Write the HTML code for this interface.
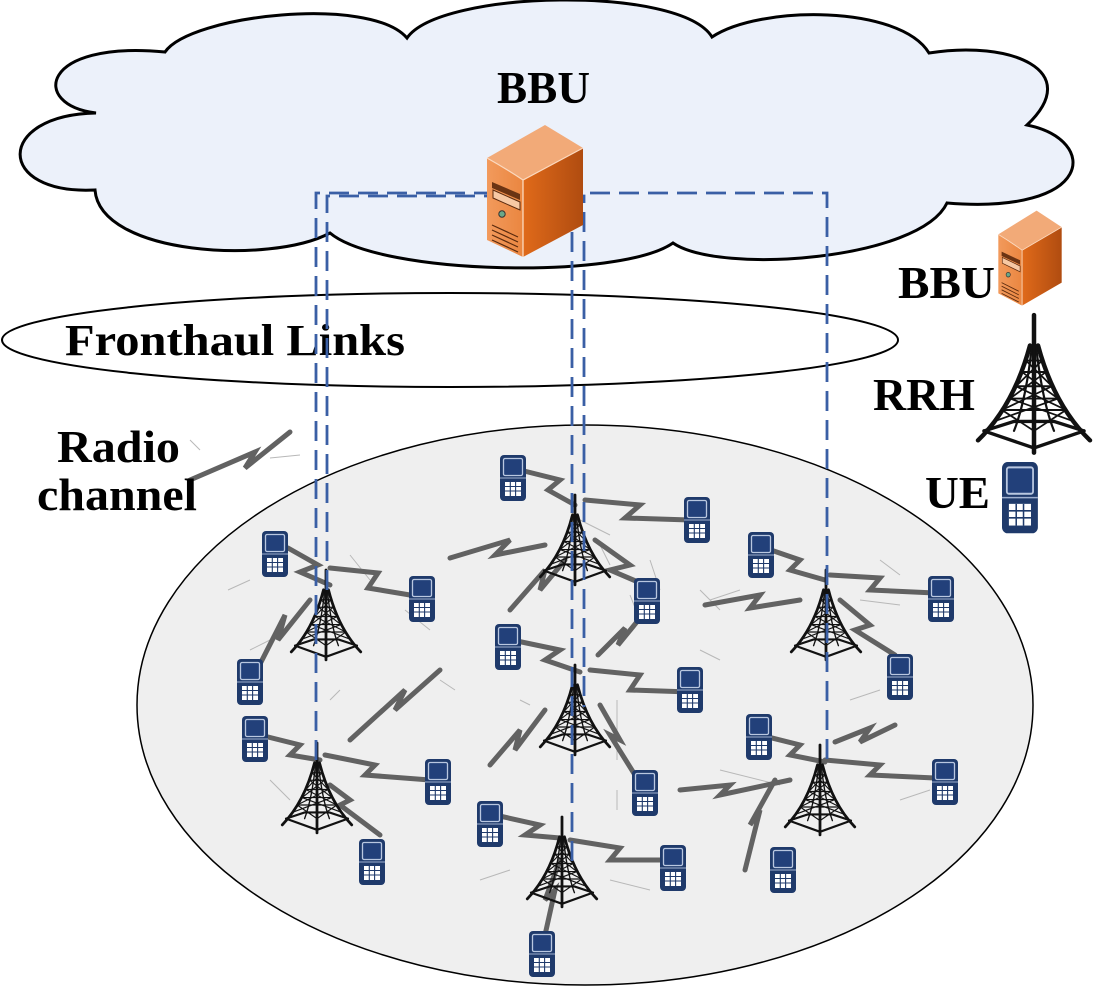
<!DOCTYPE html>
<html><head><meta charset="utf-8"><style>
html,body{margin:0;padding:0;background:#fff;}
svg{display:block;}
text{font-family:"Liberation Serif",serif;font-weight:bold;fill:#000;}
</style></head><body>
<svg width="1094" height="987" viewBox="0 0 1094 987" xmlns="http://www.w3.org/2000/svg">
<defs>
<linearGradient id="side" x1="0" x2="1"><stop offset="0" stop-color="#e06a1a"/><stop offset="1" stop-color="#b04c10"/></linearGradient>
<linearGradient id="front" x1="0" x2="1"><stop offset="0" stop-color="#f29a5c"/><stop offset="1" stop-color="#ea8640"/></linearGradient>
<g id="server">
<polygon points="2,38 38,60 38,137 2,120" fill="url(#front)"/>
<polygon points="38,60 98,28 98,105 38,137" fill="url(#side)"/>
<polygon points="2,38 60,5 98,28 38,60" fill="#f2aa78"/>
<line x1="38" y1="60" x2="38" y2="137" stroke="#fde2cc" stroke-width="1.2"/>
<path d="M2,38 Q20,48 38,60 L98,28" fill="none" stroke="#fbd9bf" stroke-width="1.2"/>
<polygon points="7,62 35,74 35,80 7,68" fill="#6b3413"/>
<polygon points="8,70 35,82 35,90 8,78" fill="#f7c9a4" stroke="#5a2a0e" stroke-width="1"/>
<circle cx="17" cy="94" r="3.2" fill="#6aa888" stroke="#333" stroke-width="1"/>
<path d="M7,105 L33,117 M7,110 L33,122 M7,115 L33,127 M7,120 L33,132" stroke="#5a2a0e" stroke-width="1.2"/>
</g>
<g id="tower" fill="none" stroke="#111" stroke-linecap="round">
<line x1="0" y1="0" x2="0" y2="145" stroke-width="4.5"/>
<path d="M-4,32 Q-20,95 -56,132" stroke-width="4.5"/>
<path d="M4,32 Q20,95 56,132" stroke-width="4.5"/>
<path d="M-2,32 Q-8,90 -20,122 M2,32 Q8,90 20,122" stroke-width="2.2"/>
<path d="M-50,122 L0,140 L50,122 M-50,122 L-20,112 L20,112 L50,122" stroke-width="3.5"/>
<path d="M-12,60 L12,60 M-18,75 L18,75 M-24,88 L24,88 M-32,100 L32,100 M-8,48 L8,48" stroke-width="2"/>
<path d="M-8,48 L18,75 M8,48 L-18,75 M-12,60 L24,88 M12,60 L-24,88 M-18,75 L32,100 M18,75 L-32,100 M-24,88 L40,112 M24,88 L-40,112 M-32,100 L0,122 M32,100 L0,122" stroke-width="1.8"/>
</g>
<g id="phone">
<rect x="0" y="0" width="26" height="46" rx="4" fill="#1f3a6b"/>
<rect x="3.5" y="3.5" width="19" height="17" rx="1.5" fill="#22407a" stroke="#b9c7e0" stroke-width="1.3"/>
<line x1="0" y1="23" x2="26" y2="23" stroke="#9fb0cf" stroke-width="1"/>
<rect x="5" y="27" width="16" height="14" fill="#fff"/>
<path d="M5,31.5 H21 M5,36 H21 M10.3,27 V41 M15.6,27 V41" stroke="#1f3a6b" stroke-width="1.1"/>
</g>
</defs>

<!-- cloud -->
<path d="M96,113 C30,105 40,40 165,52 C190,15 370,-5 407,38 C440,-10 680,-15 712,37 C760,5 900,5 929,53 C1010,40 1085,70 1027,125 C1100,140 1095,215 947,203 C920,260 720,275 673,243 C620,280 380,275 330,233 C270,265 100,255 95,190 C-5,195 -5,115 96,113 Z" fill="#ecf1fa" stroke="#000" stroke-width="3"/>
<text x="497" y="103" font-size="46" textLength="93" lengthAdjust="spacingAndGlyphs">BBU</text>

<!-- fronthaul ellipse -->
<ellipse cx="450" cy="340" rx="448" ry="47" fill="none" stroke="#000" stroke-width="2"/>
<text x="65" y="355" font-size="44" textLength="340" lengthAdjust="spacingAndGlyphs">Fronthaul Links</text>

<!-- big ellipse -->
<ellipse cx="585" cy="705" rx="448" ry="280" fill="#efefef" stroke="#000" stroke-width="1.5"/>

<!-- thin gray lines -->
<g stroke="#b8b8b8" stroke-width="1">
<path d="M350,555 L370,580 M250,650 L270,640 M430,630 L405,610 M228,590 L250,580 M440,680 L455,690 M580,520 L610,535 M600,545 L610,565 M630,595 L640,620 M700,650 L720,660 M650,560 L660,590 M617,700 L617,760 M617,790 L617,810 M720,770 L780,785 M710,600 L740,590 M860,600 L900,605 M880,560 L900,575 M850,700 L880,690 M900,800 L930,790 M760,720 L770,740 M530,705 L520,700 M480,880 L510,870 M340,690 L330,700 M610,880 L650,890 M700,590 L720,610 M290,800 L270,780 M190,440 L200,450 M270,458 L300,455"/>
</g>

<!-- bolts -->
<g fill="none" stroke="#626262" stroke-width="5" stroke-linejoin="miter" stroke-linecap="round">
<path d="M190,480 L255,452 L245,468 L290,432"/>
<path d="M288,548 L318,565 L300,572 L330,585"/>
<path d="M330,568 L378,573 L368,588 L410,595"/>
<path d="M258,668 L285,615 L278,640 L310,600"/>
<path d="M520,470 L560,480 L548,490 L575,505"/>
<path d="M585,500 L640,505 L625,518 L690,520"/>
<path d="M450,558 L510,540 L495,555 L545,545"/>
<path d="M510,610 L545,570 L540,590 L565,560"/>
<path d="M595,540 L630,565 L610,570 L645,585"/>
<path d="M512,640 L560,650 L545,660 L580,672"/>
<path d="M590,670 L640,675 L630,690 L690,692"/>
<path d="M490,765 L520,730 L515,750 L545,710"/>
<path d="M600,705 L620,740 L610,735 L635,775"/>
<path d="M598,655 L625,628 L618,645 L645,612"/>
<path d="M350,740 L405,690 L395,710 L440,670"/>
<path d="M765,548 L800,560 L790,570 L825,580"/>
<path d="M830,575 L880,578 L870,590 L935,593"/>
<path d="M705,605 L760,595 L750,608 L800,600"/>
<path d="M840,600 L870,625 L855,630 L895,655"/>
<path d="M260,735 L300,745 L290,755 L320,760"/>
<path d="M325,755 L375,765 L365,775 L430,780"/>
<path d="M330,785 L350,800 L340,805 L380,835"/>
<path d="M760,735 L800,745 L790,755 L825,762"/>
<path d="M825,760 L880,765 L870,775 L935,778"/>
<path d="M835,742 L870,728 L860,742 L895,725"/>
<path d="M680,790 L730,785 L720,795 L790,780"/>
<path d="M745,870 L760,810 L750,825 L775,780"/>
<path d="M495,815 L540,825 L525,835 L560,838"/>
<path d="M570,840 L620,848 L610,860 L665,860"/>
<path d="M545,935 L555,890 L545,900 L560,860"/>
</g>

<!-- towers -->
<use href="#tower" transform="translate(326,570) scale(0.62)"/>
<use href="#tower" transform="translate(575,495) scale(0.62)"/>
<use href="#tower" transform="translate(826,570) scale(0.62)"/>
<use href="#tower" transform="translate(575,665) scale(0.62)"/>
<use href="#tower" transform="translate(317,743) scale(0.62)"/>
<use href="#tower" transform="translate(820,745) scale(0.62)"/>
<use href="#tower" transform="translate(562,817) scale(0.62)"/>
<use href="#tower" transform="translate(1034,315) scale(1,0.95)"/>

<!-- phones -->
<g>
<use href="#phone" x="500" y="455"/>
<use href="#phone" x="684" y="497"/>
<use href="#phone" x="262" y="531"/>
<use href="#phone" x="409" y="576"/>
<use href="#phone" x="634" y="578"/>
<use href="#phone" x="748" y="532"/>
<use href="#phone" x="928" y="576"/>
<use href="#phone" x="495" y="624"/>
<use href="#phone" x="237" y="659"/>
<use href="#phone" x="677" y="667"/>
<use href="#phone" x="887" y="654"/>
<use href="#phone" x="242" y="716"/>
<use href="#phone" x="425" y="759"/>
<use href="#phone" x="632" y="770"/>
<use href="#phone" x="746" y="714"/>
<use href="#phone" x="932" y="759"/>
<use href="#phone" x="477" y="801"/>
<use href="#phone" x="359" y="839"/>
<use href="#phone" x="660" y="845"/>
<use href="#phone" x="770" y="847"/>
<use href="#phone" x="529" y="931"/>
<use href="#phone" transform="translate(1002,462) scale(1.38,1.55)"/>
</g>

<!-- dashed fronthaul -->
<g fill="none" stroke="#3a5fa5" stroke-width="2.8" stroke-dasharray="20,9">
<path d="M316,760 L316,193 L827,193 L827,765"/>
<path d="M327,590 L327,196 L584,196 L584,707"/>
<path d="M572,203 L572,867"/>
</g>

<!-- servers -->
<use href="#server" transform="translate(485,120)"/>
<use href="#server" transform="translate(997,207) scale(0.66,0.72)"/>

<!-- legend text -->
<text x="898" y="298" font-size="46" textLength="97" lengthAdjust="spacingAndGlyphs">BBU</text>
<text x="873" y="410" font-size="46" textLength="102" lengthAdjust="spacingAndGlyphs">RRH</text>
<text x="925" y="508" font-size="46" textLength="65" lengthAdjust="spacingAndGlyphs">UE</text>
<text x="57" y="462" font-size="46" textLength="123" lengthAdjust="spacingAndGlyphs">Radio</text>
<text x="37" y="510" font-size="46" textLength="160" lengthAdjust="spacingAndGlyphs">channel</text>
</svg>
</body></html>
